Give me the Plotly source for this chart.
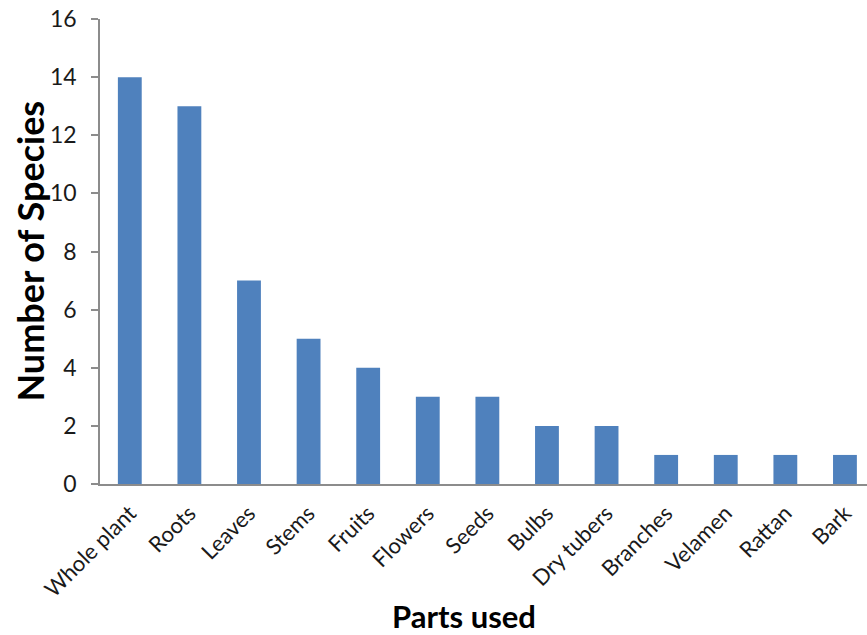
import plotly.graph_objects as go

# Plant parts used and number of species for each
parts = ["Whole plant", "Roots", "Leaves", "Stems", "Fruits", "Flowers", "Seeds",
         "Bulbs", "Dry tubers", "Branches", "Velamen", "Rattan", "Bark"]
species_counts = [14, 13, 7, 5, 4, 3, 3, 2, 2, 1, 1, 1, 1]
y_ticks = [0, 2, 4, 6, 8, 10, 12, 14, 16]

FONT = "Lato, Carlito, Calibri, sans-serif"
AXIS_GREY = "#8c8c8c"

fig = go.Figure(
    go.Bar(
        x=list(range(len(parts))),
        y=species_counts,
        width=0.4,
        marker=dict(color="#4F81BD", line=dict(width=0)),
    )
)

fig.update_layout(
    width=867,
    height=635,
    margin=dict(l=100, r=0, t=19, b=151),
    paper_bgcolor="white",
    plot_bgcolor="white",
    showlegend=False,
    font=dict(family=FONT, color="#1a1a1a"),
)

fig.update_xaxes(
    range=[-0.5, 12.37],
    tickmode="array",
    tickvals=list(range(len(parts))),
    ticktext=parts,
    tickangle=-45,
    tickfont=dict(size=22, family=FONT, color="#1a1a1a"),
    showline=True,
    linecolor=AXIS_GREY,
    linewidth=1.5,
    ticks="",
    showgrid=False,
    zeroline=False,
    ticklabelstandoff=6,
)

fig.update_yaxes(
    range=[0, 16],
    tickmode="array",
    tickvals=y_ticks,
    ticktext=[str(v) for v in y_ticks],
    tickfont=dict(size=23, family=FONT, color="#1a1a1a"),
    showline=True,
    linecolor=AXIS_GREY,
    linewidth=1.5,
    ticks="outside",
    ticklen=7,
    tickcolor=AXIS_GREY,
    tickwidth=1.5,
    showgrid=False,
    zeroline=False,
    ticklabelstandoff=10,
)

fig.add_annotation(
    text="<b>Number of Species</b>",
    xref="paper", yref="paper",
    x=-0.0925, y=0.5,
    textangle=-90,
    showarrow=False,
    font=dict(size=36, family=FONT, color="black"),
    xanchor="center", yanchor="middle",
)
fig.add_annotation(
    text="<b>Parts used</b>",
    xref="paper", yref="paper",
    x=0.474, y=-0.284,
    showarrow=False,
    font=dict(size=31, family=FONT, color="black"),
    xanchor="center", yanchor="middle",
)

fig.write_html("out.html")
